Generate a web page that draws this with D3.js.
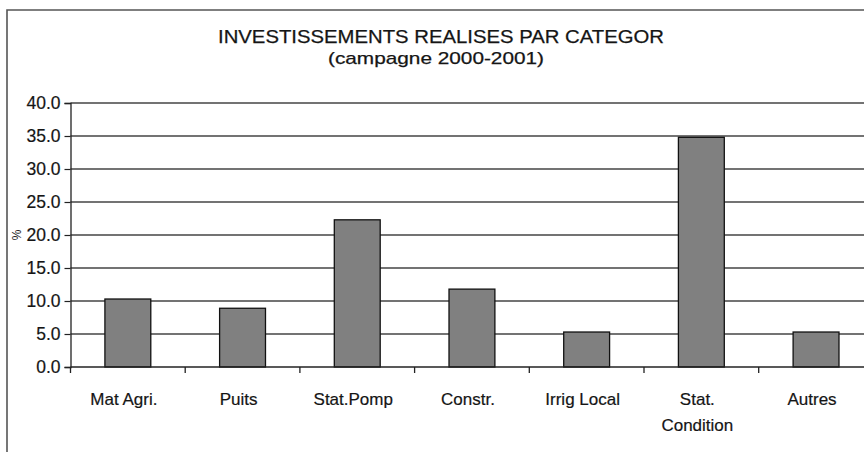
<!DOCTYPE html>
<html>
<head>
<meta charset="utf-8">
<script src="https://cdn.jsdelivr.net/npm/d3@7"></script>
<style>
  html, body { margin: 0; padding: 0; background: #fff; }
  svg { display: block; font-family: "Liberation Sans", Arial, sans-serif; }
</style>
</head>
<body>
<svg id="chart" width="864" height="452"></svg>
<script>
// Investment shares by category, 2000-2001 season (%)
const categories = ["Mat Agri.", "Puits", "Stat.Pomp", "Constr.", "Irrig Local", "Stat.\nCondition", "Autres"];
const values = [10.3, 8.9, 22.3, 11.8, 5.3, 34.8, 5.3];
const yTicks = [0, 5, 10, 15, 20, 25, 30, 35, 40];
const titleLine = "INVESTISSEMENTS REALISES PAR CATEGOR";
const subtitleLine = "(campagne  2000-2001)";
const unitLabel = "%";

const svg = d3.select("#chart");
const W = 864, H = 452;
const ink = "#151515";

// Plot geometry
const left = 70.5, step = 114.7;
const plotTop = 103, plotBottom = 367;

const x = d3.scaleBand()
  .domain(categories)
  .range([left, left + step * categories.length])
  .paddingInner(0.6)
  .paddingOuter(0.3);

const y = d3.scaleLinear().domain([0, 40]).range([plotBottom, plotTop]);

// Chart frame (left and top edges)
svg.append("path")
  .attr("d", `M7,${H} L7,10 L${W},10`)
  .attr("fill", "none")
  .attr("stroke", "#555")
  .attr("stroke-width", 1.6);

// Titles
svg.append("text")
  .attr("x", 441).attr("y", 43)
  .attr("text-anchor", "middle")
  .attr("font-size", 19)
  .attr("textLength", 446)
  .attr("lengthAdjust", "spacingAndGlyphs")
  .attr("fill", ink)
  .attr("stroke", ink).attr("stroke-width", 0.25)
  .text(titleLine);

svg.append("text")
  .attr("x", 436).attr("y", 64)
  .attr("text-anchor", "middle")
  .attr("font-size", 17)
  .attr("textLength", 216)
  .attr("lengthAdjust", "spacingAndGlyphs")
  .attr("fill", ink)
  .attr("stroke", ink).attr("stroke-width", 0.25)
  .text(subtitleLine);

// Horizontal gridlines
svg.append("g")
  .selectAll("line")
  .data(yTicks.filter(d => d > 0))
  .join("line")
  .attr("x1", left).attr("x2", W)
  .attr("y1", d => y(d)).attr("y2", d => y(d))
  .attr("stroke", "#444")
  .attr("stroke-width", 1.5);

// Bars
svg.append("g")
  .selectAll("rect")
  .data(categories)
  .join("rect")
  .attr("x", d => x(d))
  .attr("width", x.bandwidth())
  .attr("y", (d, i) => y(values[i]))
  .attr("height", (d, i) => y(0) - y(values[i]))
  .attr("fill", "#808080")
  .attr("stroke", "#111")
  .attr("stroke-width", 1.3);

// Y axis
const yAxis = svg.append("g")
  .attr("transform", `translate(${left},0)`)
  .call(d3.axisLeft(y).tickValues(yTicks).tickFormat(d3.format(".1f")).tickSize(6).tickPadding(4));
yAxis.select(".domain").attr("stroke", "#222").attr("stroke-width", 1.3);
yAxis.selectAll(".tick line").attr("stroke", "#222").attr("stroke-width", 1.2);
yAxis.selectAll(".tick text")
  .attr("font-size", 17.5)
  .attr("fill", ink)
  .attr("stroke", ink).attr("stroke-width", 0.2)
  .attr("font-family", "Liberation Sans, Arial, sans-serif");

// Unit label next to the axis
svg.append("text")
  .attr("transform", `translate(17,${y(20)}) rotate(-90)`)
  .attr("text-anchor", "middle")
  .attr("dy", "0.35em")
  .attr("font-size", 12)
  .attr("fill", "#222")
  .text(unitLabel);

// X axis line and ticks at category boundaries
svg.append("line")
  .attr("x1", left).attr("x2", W)
  .attr("y1", plotBottom).attr("y2", plotBottom)
  .attr("stroke", "#222").attr("stroke-width", 1.7);

svg.append("g")
  .selectAll("line")
  .data(d3.range(categories.length + 1))
  .join("line")
  .attr("x1", i => left + i * step).attr("x2", i => left + i * step)
  .attr("y1", plotBottom).attr("y2", plotBottom + 6)
  .attr("stroke", "#222").attr("stroke-width", 1.3);

// Category labels (multi-line where needed)
const lab = svg.append("g")
  .selectAll("text")
  .data(categories)
  .join("text")
  .attr("x", d => x(d) + x.bandwidth() / 2 - 4)
  .attr("y", 405)
  .attr("text-anchor", "middle")
  .attr("font-size", 17)
  .attr("fill", ink)
  .attr("stroke", ink).attr("stroke-width", 0.2);
lab.each(function(d) {
  const t = d3.select(this);
  const cx = t.attr("x");
  d.split("\n").forEach((line, i) => {
    t.append("tspan").attr("x", cx).attr("dy", i === 0 ? 0 : 26).text(line);
  });
});
</script>
</body>
</html>
